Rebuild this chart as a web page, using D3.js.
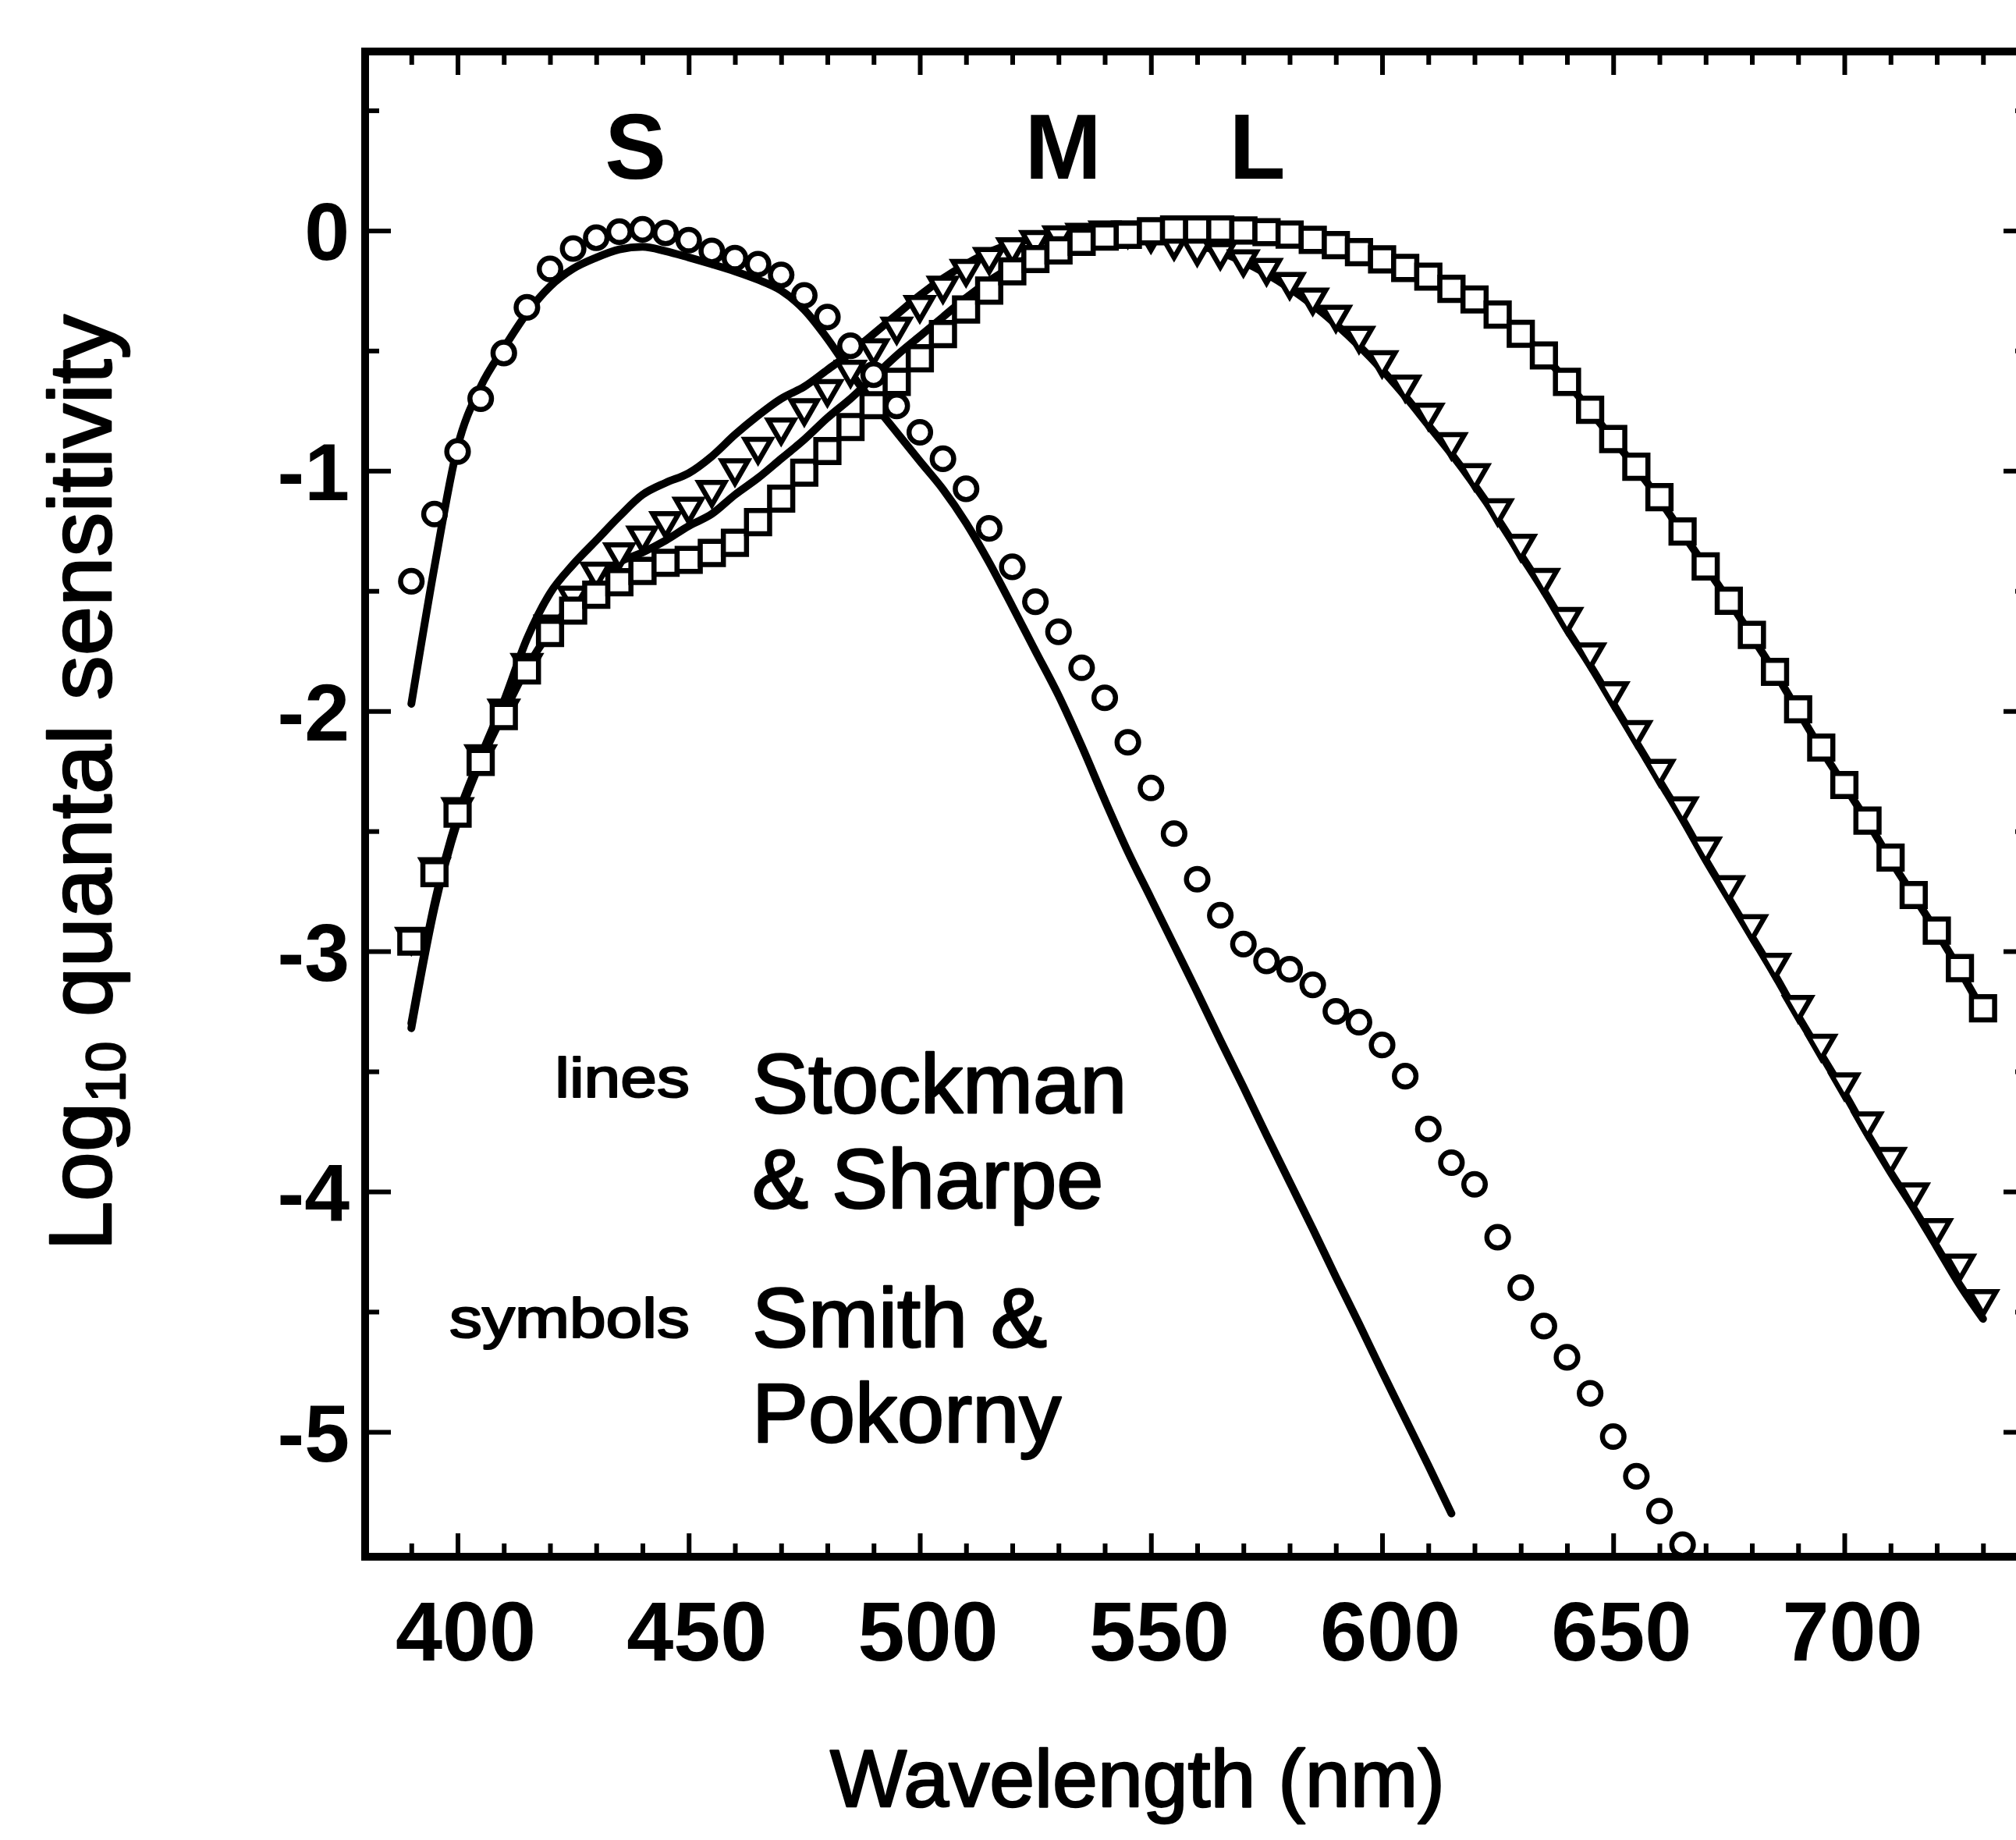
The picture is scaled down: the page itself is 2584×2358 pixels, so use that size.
<!DOCTYPE html>
<html>
<head>
<meta charset="utf-8">
<script src="https://cdn.jsdelivr.net/npm/d3@7"></script>
<style>
  body { margin: 0; background: #fff; }
  text { font-family: "Liberation Sans", Arial, Helvetica, sans-serif; fill: #000; }
  .heavy { stroke: #000; stroke-width: 2.5px; stroke-linejoin: round; }
</style>
</head>
<body>
<div id="container"></div>
<script>
//// Cone fundamentals, log10 quantal sensitivity ////

// wavelength grid (nm) shared by every series
const wavelengths = [390,395,400,405,410,415,420,425,430,435,440,445,450,455,460,465,470,475,480,485,
  490,495,500,505,510,515,520,525,530,535,540,545,550,555,560,565,570,575,580,585,
  590,595,600,605,610,615,620,625,630,635,640,645,650,655,660,665,670,675,680,685,
  690,695,700,705,710,715,720,725,730];

// Smith & Pokorny (symbols)
const sSymbols = [-1.46,-1.18,-0.92,-0.70,-0.51,-0.32,-0.16,-0.075,-0.03,-0.005,
  0.005,-0.01,-0.04,-0.085,-0.115,-0.14,-0.185,-0.27,-0.36,-0.48,
  -0.60,-0.73,-0.84,-0.95,-1.075,-1.24,-1.40,-1.545,-1.67,-1.82,
  -1.945,-2.13,-2.32,-2.51,-2.70,-2.85,-2.97,-3.04,-3.075,-3.14,
  -3.25,-3.295,-3.39,-3.52,-3.74,-3.88,-3.97,-4.19,-4.40,-4.56,
  -4.69,-4.84,-5.02,-5.185,-5.33,-5.47,
  null,null,null,null,null,null,null,null,null,null,null,null,null];
const mSymbols = [-2.94,-2.65,-2.40,-2.18,-1.99,-1.80,-1.64,-1.52,-1.42,-1.34,
  -1.27,-1.21,-1.15,-1.08,-0.99,-0.90,-0.82,-0.74,-0.66,-0.58,
  -0.49,-0.40,-0.31,-0.23,-0.16,-0.11,-0.07,-0.04,-0.02,-0.01,
  0,0,-0.02,-0.05,-0.075,-0.09,-0.12,-0.156,-0.214,-0.279,
  -0.351,-0.438,-0.540,-0.641,-0.758,-0.881,-1.010,-1.156,-1.304,-1.446,
  -1.608,-1.756,-1.918,-2.079,-2.241,-2.397,-2.564,-2.725,-2.887,-3.048,
  -3.223,-3.385,-3.546,-3.708,-3.856,-4.004,-4.152,-4.300,-4.448];
const lSymbols = [-2.96,-2.675,-2.427,-2.212,-2.021,-1.831,-1.675,-1.582,-1.516,-1.464,
  -1.417,-1.383,-1.371,-1.342,-1.30,-1.214,-1.116,-1.008,-0.918,-0.818,
  -0.727,-0.63,-0.532,-0.431,-0.329,-0.25,-0.17,-0.119,-0.083,-0.047,
  -0.025,-0.018,-0.003,0.004,0.004,0.004,0,-0.007,-0.017,-0.039,
  -0.061,-0.09,-0.12,-0.156,-0.192,-0.243,-0.287,-0.35,-0.43,-0.52,
  -0.63,-0.746,-0.868,-0.983,-1.110,-1.253,-1.398,-1.541,-1.683,-1.837,
  -1.993,-2.152,-2.308,-2.456,-2.610,-2.766,-2.914,-3.070,-3.237];

// Stockman & Sharpe (lines)
const sLine = [-1.97,-1.40,-0.90,-0.65,-0.49,-0.345,-0.233,-0.159,-0.113,-0.079,
  -0.068,-0.086,-0.112,-0.14,-0.17,-0.205,-0.25,-0.33,-0.45,-0.59,
  -0.72,-0.84,-0.96,-1.077,-1.217,-1.382,-1.564,-1.75,-1.935,-2.145,
  -2.37,-2.585,-2.78,-2.975,-3.17,-3.37,-3.565,-3.765,-3.96,-4.155,
  -4.355,-4.55,-4.75,-4.945,-5.14,-5.34,
  null,null,null,null,null,null,null,null,null,null,null,null,null,null,null,null,null,null,null,null,null,null,null];
const mLine = [-3.30,-2.80,-2.44,-2.19,-1.96,-1.70,-1.51,-1.39,-1.29,-1.19,
  -1.10,-1.05,-1.01,-0.94,-0.85,-0.77,-0.70,-0.65,-0.58,-0.51,
  -0.43,-0.35,-0.27,-0.20,-0.14,-0.09,-0.055,-0.03,-0.015,-0.005,
  0,0,-0.01,-0.03,-0.06,-0.09,-0.13,-0.18,-0.24,-0.31,
  -0.39,-0.48,-0.58,-0.69,-0.81,-0.93,-1.06,-1.20,-1.35,-1.50,
  -1.66,-1.81,-1.97,-2.13,-2.29,-2.45,-2.62,-2.78,-2.94,-3.10,
  -3.27,-3.43,-3.59,-3.76,-3.92,-4.07,-4.23,-4.39,-4.53];
const lLine = [-3.32,-2.82,-2.46,-2.21,-2.01,-1.82,-1.67,-1.55,-1.45,-1.38,
  -1.34,-1.29,-1.23,-1.18,-1.10,-1.03,-0.95,-0.87,-0.78,-0.70,
  -0.61,-0.52,-0.44,-0.36,-0.28,-0.21,-0.15,-0.10,-0.065,-0.04,
  -0.02,-0.01,0,0,0,0,0,-0.01,-0.02,-0.04,
  -0.06,-0.09,-0.12,-0.155,-0.19,-0.24,-0.29,-0.35,-0.43,-0.52,
  -0.63,-0.75,-0.87,-0.99,-1.12,-1.26,-1.40,-1.54,-1.69,-1.84,
  -2.00,-2.16,-2.31,-2.46,-2.62,-2.77,-2.92,-3.08,-3.25];

// ticks
const xMajorTicks = [400,450,500,550,600,650,700];
const xMinorTicks = [390,410,420,430,440,460,470,480,490,510,520,530,540,560,570,580,590,
  610,620,630,640,660,670,680,690,710,720,730];
const yMajorTicks = [0,-1,-2,-3,-4,-5];
const yMinorTicks = [0.5,-0.5,-1.5,-2.5,-3.5,-4.5];

const coneLabels = ["S","M","L"];
const coneLabelNm = [438.5,531,573];

const width = 2584, height = 2358;

const svg = d3.select("#container").append("svg")
  .attr("width", width)
  .attr("height", height)
  .style("display", "block");
svg.append("rect").attr("width", width).attr("height", height).attr("fill", "#fff");

// Scales
const x = d3.scaleLinear().domain([380, 740]).range([468, 2601]);
const y = d3.scaleLinear().domain([-5.52, 0.745]).range([1995, 66]);

const plotLeft = x.range()[0], plotRight = x.range()[1];
const plotTop = y.range()[1], plotBottom = y.range()[0];

svg.append("clipPath").attr("id", "plot-clip")
  .append("rect")
  .attr("x", plotLeft).attr("y", plotTop)
  .attr("width", plotRight - plotLeft).attr("height", plotBottom - plotTop);

// Axes: inward ticks on all four sides
function styleTicks(g) {
  g.select(".domain").remove();
  g.selectAll(".tick line").attr("stroke", "#000").attr("stroke-width", 6);
}

svg.append("g").attr("transform", `translate(0,${plotBottom})`)
  .call(d3.axisBottom(x).tickValues(xMinorTicks).tickSize(-17).tickFormat(""))
  .call(styleTicks);
svg.append("g").attr("transform", `translate(0,${plotTop})`)
  .call(d3.axisTop(x).tickValues(xMinorTicks).tickSize(-17).tickFormat(""))
  .call(styleTicks);
svg.append("g").attr("transform", `translate(0,${plotTop})`)
  .call(d3.axisTop(x).tickValues(xMajorTicks).tickSize(-30).tickFormat(""))
  .call(styleTicks);

const xAxis = svg.append("g").attr("transform", `translate(0,${plotBottom})`)
  .call(d3.axisBottom(x).tickValues(xMajorTicks).tickSize(-30).tickFormat(d => String(d)))
  .call(styleTicks);
xAxis.selectAll(".tick text")
  .attr("x", 10)
  .attr("y", 133)
  .attr("dy", 0)
  .style("font-family", '"Liberation Sans", Arial, sans-serif')
  .style("font-size", "108px")
  .style("font-weight", "bold")
  .attr("fill", "#000");

svg.append("g").attr("transform", `translate(${plotLeft},0)`)
  .call(d3.axisLeft(y).tickValues(yMinorTicks).tickSize(-18).tickFormat(""))
  .call(styleTicks);
svg.append("g").attr("transform", `translate(${plotRight},0)`)
  .call(d3.axisRight(y).tickValues(yMinorTicks).tickSize(-18).tickFormat(""))
  .call(styleTicks);
svg.append("g").attr("transform", `translate(${plotRight},0)`)
  .call(d3.axisRight(y).tickValues(yMajorTicks).tickSize(-33).tickFormat(""))
  .call(styleTicks);

const yAxis = svg.append("g").attr("transform", `translate(${plotLeft},0)`)
  .call(d3.axisLeft(y).tickValues(yMajorTicks).tickSize(-33).tickFormat(d => String(d)))
  .call(styleTicks);
yAxis.selectAll(".tick text")
  .attr("x", -20)
  .attr("dy", "0.36em")
  .style("font-family", '"Liberation Sans", Arial, sans-serif')
  .style("font-size", "104px")
  .style("font-weight", "bold")
  .attr("fill", "#000");

// Frame
svg.append("rect")
  .attr("x", plotLeft).attr("y", plotTop)
  .attr("width", plotRight - plotLeft).attr("height", plotBottom - plotTop)
  .attr("fill", "none").attr("stroke", "#000").attr("stroke-width", 10);

// Data: lines underneath, white-filled symbols on top
const plot = svg.append("g").attr("clip-path", "url(#plot-clip)");

function rows(values) {
  return wavelengths.map((nm, i) => ({nm: nm, v: values[i]})).filter(d => d.v != null);
}

const line = d3.line()
  .x(d => x(d.nm))
  .y(d => y(d.v))
  .curve(d3.curveMonotoneX);

[sLine, mLine, lLine].forEach(values => {
  plot.append("path")
    .datum(rows(values))
    .attr("d", line)
    .attr("fill", "none")
    .attr("stroke", "#000")
    .attr("stroke-width", 10)
    .attr("stroke-linejoin", "round")
    .attr("stroke-linecap", "round");
});

const symbolSeries = [
  {name: "M", values: mSymbols, type: d3.symbolTriangle, size: 480, rotate: 180},
  {name: "L", values: lSymbols, type: d3.symbolSquare, size: 880, rotate: 0},
  {name: "S", values: sSymbols, type: d3.symbolCircle, size: 600, rotate: 0}
];

symbolSeries.forEach(s => {
  plot.append("g")
    .selectAll("path")
    .data(rows(s.values))
    .join("path")
    .attr("d", d3.symbol().type(s.type).size(s.size))
    .attr("transform", d => `translate(${x(d.nm)},${y(d.v)}) rotate(${s.rotate})`)
    .attr("fill", "#fff")
    .attr("stroke", "#000")
    .attr("stroke-width", 6.5);
});

// Cone labels
svg.append("g")
  .selectAll("text")
  .data(coneLabels)
  .join("text")
  .attr("x", (d, i) => x(coneLabelNm[i]))
  .attr("y", 229)
  .attr("text-anchor", "middle")
  .style("font-size", "118px")
  .style("font-weight", "bold")
  .text(d => d);

// Legend
const legendRows = [
  {key: "lines", keyY: 1406, text: ["Stockman", "& Sharpe"], textY: 1426},
  {key: "symbols", keyY: 1714, text: ["Smith &", "Pokorny"], textY: 1726}
];
legendRows.forEach(r => {
  svg.append("text")
    .attr("class", "heavy")
    .attr("transform", `translate(884,${r.keyY}) scale(1,0.86)`)
    .attr("text-anchor", "end")
    .style("font-size", "84px")
    .text(r.key);
  r.text.forEach((t, i) => {
    svg.append("text")
      .attr("class", "heavy")
      .attr("x", 964)
      .attr("y", r.textY + i * 122)
      .style("font-size", "108px")
      .text(t);
  });
});

// Axis titles
svg.append("text")
  .attr("class", "heavy")
  .attr("x", 1458)
  .attr("y", 2315)
  .attr("text-anchor", "middle")
  .style("font-size", "104px")
  .text("Wavelength (nm)");

const yTitle = svg.append("text")
  .attr("class", "heavy")
  .attr("transform", `translate(142,1003) rotate(-90)`)
  .attr("text-anchor", "middle")
  .style("font-size", "114px");
yTitle.append("tspan").text("Log");
yTitle.append("tspan").attr("dy", 18).style("font-size", "70px").text("10");
yTitle.append("tspan").attr("dy", -18).text(" quantal sensitivity");
</script>
</body>
</html>
